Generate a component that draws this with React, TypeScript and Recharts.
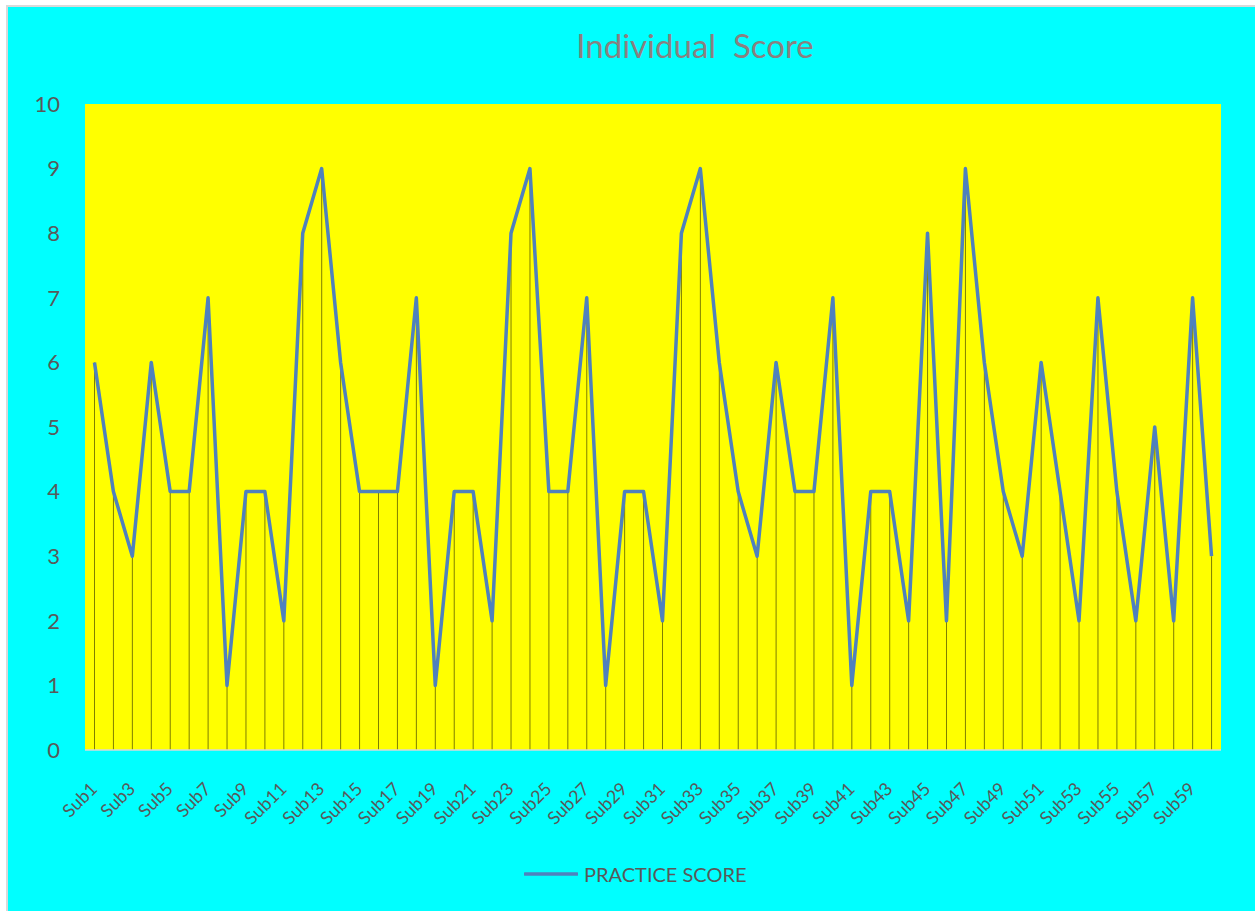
import React from 'react';
import {
  ComposedChart,
  Line,
  Bar,
  XAxis,
  YAxis,
  CartesianGrid,
  Legend,
} from 'recharts';

const categories = [
  'Sub1', 'Sub2', 'Sub3', 'Sub4', 'Sub5', 'Sub6', 'Sub7', 'Sub8', 'Sub9', 'Sub10',
  'Sub11', 'Sub12', 'Sub13', 'Sub14', 'Sub15', 'Sub16', 'Sub17', 'Sub18', 'Sub19', 'Sub20',
  'Sub21', 'Sub22', 'Sub23', 'Sub24', 'Sub25', 'Sub26', 'Sub27', 'Sub28', 'Sub29', 'Sub30',
  'Sub31', 'Sub32', 'Sub33', 'Sub34', 'Sub35', 'Sub36', 'Sub37', 'Sub38', 'Sub39', 'Sub40',
  'Sub41', 'Sub42', 'Sub43', 'Sub44', 'Sub45', 'Sub46', 'Sub47', 'Sub48', 'Sub49', 'Sub50',
  'Sub51', 'Sub52', 'Sub53', 'Sub54', 'Sub55', 'Sub56', 'Sub57', 'Sub58', 'Sub59', 'Sub60',
];

const practiceScore = [
  6, 4, 3, 6, 4, 4, 7, 1, 4, 4,
  2, 8, 9, 6, 4, 4, 4, 7, 1, 4,
  4, 2, 8, 9, 4, 4, 7, 1, 4, 4,
  2, 8, 9, 6, 4, 3, 6, 4, 4, 7,
  1, 4, 4, 2, 8, 2, 9, 6, 4, 3,
  6, 4, 2, 7, 4, 2, 5, 2, 7, 3,
];

const yTicks = [0, 1, 2, 3, 4, 5, 6, 7, 8, 9, 10];

const seriesName = 'PRACTICE SCORE';
const titleText = 'Individual  Score';

const data = categories.map((name, i) => ({ name, score: practiceScore[i] }));

const FONT = 'Lato, "Open Sans", sans-serif';
const LINE_COLOR = '#4F81BD';
const DROP_COLOR = '#7F7F00';
const TEXT_COLOR = '#595959';

const XTick = (props: any) => {
  const { x, y, payload } = props;
  const ax = x + 4;
  const ay = y + 40;
  return (
    <text
      x={ax}
      y={ay}
      transform={`rotate(-45, ${ax}, ${ay})`}
      textAnchor="end"
      fill={TEXT_COLOR}
      fontSize={18}
      fontFamily={FONT}
    >
      {payload.value}
    </text>
  );
};

const LegendContent = () => (
  <div style={{ display: 'flex', alignItems: 'center', height: 30 }}>
    <svg width={54} height={6}>
      <line x1={1} y1={3} x2={53} y2={3} stroke={LINE_COLOR} strokeWidth={3.5} strokeLinecap="round" />
    </svg>
    <span
      style={{
        marginLeft: 6,
        fontSize: 20,
        color: TEXT_COLOR,
        fontFamily: FONT,
        lineHeight: '30px',
        whiteSpace: 'nowrap',
      }}
    >
      {seriesName}
    </span>
  </div>
);

export default function App() {
  return (
    <div
      style={{
        position: 'absolute',
        left: 6,
        top: 5,
        width: 1247,
        height: 904,
        background: '#00FFFF',
        borderLeft: '2px solid #D9D9D9',
        borderTop: '2px solid #D9D9D9',
        overflow: 'hidden',
      }}
    >
      <div
        style={{
          position: 'absolute',
          left: 487,
          top: 22,
          width: 400,
          textAlign: 'center',
          fontSize: 33,
          lineHeight: '33px',
          fontFamily: FONT,
          color: '#8A8080',
          whiteSpace: 'pre',
        }}
      >
        {titleText}
      </div>
      <ComposedChart
        width={1247}
        height={904}
        data={data}
        margin={{ top: 97, right: 34, bottom: 0, left: 0 }}
      >
        <CartesianGrid fill="#FFFF00" stroke="none" horizontal={false} vertical={false} />
        <XAxis
          dataKey="name"
          interval={1}
          height={161}
          tickLine={false}
          tickSize={0}
          tickMargin={0}
          axisLine={{ stroke: '#D9D9D9', strokeWidth: 1.5 }}
          tick={<XTick />}
        />
        <YAxis
          width={77}
          domain={[0, 10]}
          ticks={yTicks}
          interval={0}
          axisLine={false}
          tickLine={false}
          tickSize={0}
          tickMargin={25}
          tick={{ fill: TEXT_COLOR, fontSize: 22, fontFamily: FONT }}
        />
        <Bar
          dataKey="score"
          barSize={1}
          fill={DROP_COLOR}
          isAnimationActive={false}
          legendType="none"
        />
        <Line
          type="linear"
          dataKey="score"
          name={seriesName}
          stroke={LINE_COLOR}
          strokeWidth={3.5}
          strokeLinejoin="round"
          dot={false}
          activeDot={false}
          isAnimationActive={false}
        />
        <Legend
          verticalAlign="middle"
          align="center"
          content={<LegendContent />}
          wrapperStyle={{ position: 'absolute', left: 516, top: 852, width: 300, height: 30 }}
        />
      </ComposedChart>
    </div>
  );
}
